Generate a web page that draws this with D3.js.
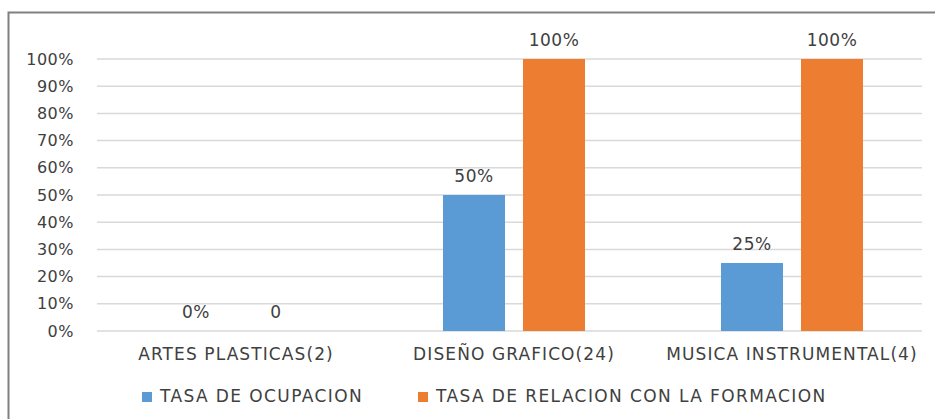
<!DOCTYPE html>
<html>
<head>
<meta charset="utf-8">
<script src="https://cdn.jsdelivr.net/npm/d3@7"></script>
<style>
body{margin:0;background:#fff}
svg{display:block}
text{font-family:"DejaVu Sans",sans-serif;fill:#404040;letter-spacing:1.1px}
</style>
</head>
<body>
<svg></svg>
<script>
var categories = ["ARTES PLASTICAS(2)", "DISEÑO GRAFICO(24)", "MUSICA INSTRUMENTAL(4)"]
var ocupacion = [0, 0.5, 0.25]
var relacion = [0, 1, 1]
var ocupacionLabels = ["0%", "50%", "25%"]
var relacionLabels = ["0", "100%", "100%"]
var seriesNames = ["TASA DE OCUPACION", "TASA DE RELACION CON LA FORMACION"]
var colors = ["#5B9BD5", "#ED7D31"]
var ticks = [0, 0.1, 0.2, 0.3, 0.4, 0.5, 0.6, 0.7, 0.8, 0.9, 1]

var screen = {width:935, height:419}
var plot = {left:97, right:922, top:59, bottom:331}
var fontSize = 17

var svg = d3.select("svg")
    .attr("width", screen.width)
    .attr("height", screen.height)

// chart border
svg.append("rect")
    .attr("x", 8.5).attr("y", 12.5)
    .attr("width", 940).attr("height", 420)
    .attr("fill", "none")
    .attr("stroke", "#808080")
    .attr("stroke-width", 2)

var xScale = d3.scaleBand()
    .domain(categories)
    .range([plot.left, plot.left + 278 * 3])

var inner = d3.scaleBand()
    .domain([0, 1])
    .range([0, 142])
    .paddingInner(0.225)

var yScale = d3.scaleLinear()
    .domain([0, 1])
    .range([plot.bottom, plot.top])

// grid
svg.append("g")
    .selectAll("line")
    .data(ticks)
    .enter()
    .append("line")
    .attr("x1", plot.left)
    .attr("x2", plot.right)
    .attr("y1", function(d){return yScale(d)})
    .attr("y2", function(d){return yScale(d)})
    .attr("stroke", "#d9d9d9")
    .attr("stroke-width", 1.5)

// y axis labels
var yAxis = d3.axisLeft(yScale)
    .tickValues(ticks)
    .tickFormat(d3.format(".0%"))
    .tickSize(0)
    .tickPadding(23)

var yg = svg.append("g")
    .attr("transform", "translate(" + plot.left + ",0)")
    .call(yAxis)
yg.select(".domain").remove()
yg.selectAll("text")
    .attr("font-size", 16)
    .attr("font-family", "DejaVu Sans")
    .attr("fill", "#404040")
    .style("letter-spacing", "0.5px")

// x axis labels
var xAxis = d3.axisBottom(xScale).tickSize(0).tickPadding(17)
var xg = svg.append("g")
    .attr("transform", "translate(0," + plot.bottom + ")")
    .call(xAxis)
xg.select(".domain").remove()
xg.selectAll("text")
    .attr("font-size", fontSize)
    .attr("font-family", "DejaVu Sans")
    .attr("fill", "#404040")

var series = [ocupacion, relacion]
var labels = [ocupacionLabels, relacionLabels]

series.forEach(function(values, s)
{
    var data = categories.map(function(c, i){
        return {cat:c, v:values[i], label:labels[s][i]}
    })
    var offset = function(d){
        return xScale(d.cat) + xScale.bandwidth()/2 - 71 + inner(s)
    }
    svg.append("g")
        .selectAll("rect")
        .data(data)
        .enter()
        .append("rect")
        .attr("x", offset)
        .attr("y", function(d){return yScale(d.v)})
        .attr("width", inner.bandwidth())
        .attr("height", function(d){return plot.bottom - yScale(d.v)})
        .attr("fill", colors[s])

    svg.append("g")
        .selectAll("text")
        .data(data)
        .enter()
        .append("text")
        .attr("x", function(d){return offset(d) + inner.bandwidth()/2})
        .attr("y", function(d){return yScale(d.v) - 13})
        .attr("text-anchor", "middle")
        .attr("font-size", fontSize)
        .style("letter-spacing", "0.5px")
        .text(function(d){return d.label})
})

// legend
var legendX = [142, 418]
var legend = svg.append("g")
    .selectAll("g")
    .data(seriesNames)
    .enter()
    .append("g")
    .attr("transform", function(d, i){return "translate(" + legendX[i] + ",392)"})
legend.append("rect")
    .attr("width", 10).attr("height", 10)
    .attr("fill", function(d, i){return colors[i]})
legend.append("text")
    .attr("x", 18).attr("y", 10)
    .attr("font-size", fontSize)
    .style("letter-spacing", "1.4px")
    .text(function(d){return d})
</script>
</body>
</html>
